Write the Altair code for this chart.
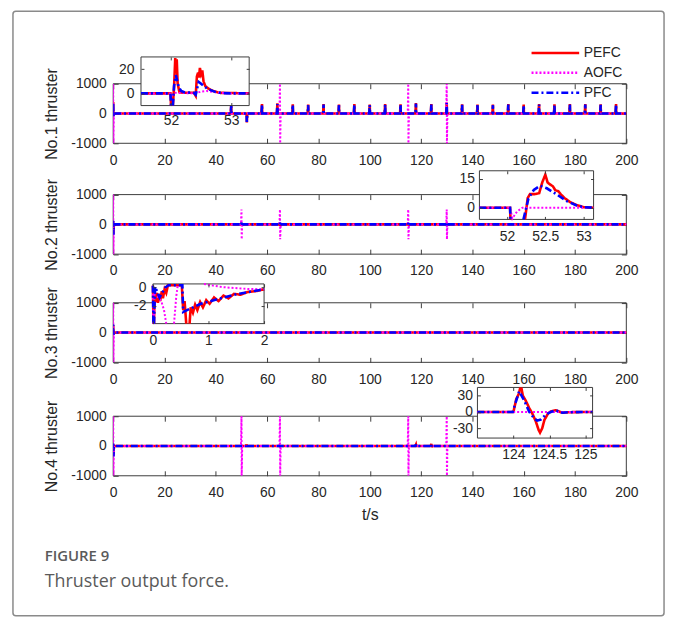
import altair as alt
import pandas as pd

# ---------------- layout constants ----------------
W = 517                      # plot width of every panel
PH = 60                      # plot height of every panel
TOPS = [0, 111.7, 220.7, 335]  # panel tops inside the single view
HT = TOPS[-1] + PH           # height of the whole view
FONT = "Liberation Sans"
TXT = "#262626"
AX = "#3c3c3c"

METHODS = ["PEFC", "AOFC", "PFC"]
COLORS = ["#ff0000", "#ff00ff", "#0000ff"]
DASHES = [[1, 0], [2, 2], [7, 3, 2, 3]]
WIDTHS = {"PEFC": 2.6, "AOFC": 2.0, "PFC": 2.6}

X_TICKS = [0, 20, 40, 60, 80, 100, 120, 140, 160, 180, 200]
Y_TICKS = [-1000, 0, 1000]
Y_TITLES = ["No.1 thruster", "No.2 thruster", "No.3 thruster", "No.4 thruster"]
X_TITLE = "t/s"
CAPTION = ["FIGURE 9", "Thruster output force."]

# ---------------- main panels: spikes (time, upper, lower) ----------------
P1_PFC_T = [0, 46, 52, 58, 64, 70, 76, 82, 88, 94, 100, 106, 112, 118, 124, 130, 136, 142, 148, 154, 160, 166, 172, 178, 184, 190, 196]
P1_PFC_HI = [370, 250, 0, 300, 320, 290, 280, 300, 280, 300, 280, 300, 290, 330, 300, 350, 290, 280, 280, 300, 280, 300, 290, 300, 300, 290, 300]
P1_PFC_LO = [-90, 0, -280, 0, 0, 0, 0, 0, 0, 0, 0, 0, 0, 0, 0, 0, 0, 0, 0, 0, 0, 0, 0, 0, 0, 0, 0]
P1_PEFC_T = P1_PFC_T
P1_PEFC_HI = [390, 270, 0, 320, 340, 310, 300, 320, 300, 320, 300, 320, 310, 350, 320, 370, 310, 300, 300, 320, 300, 320, 310, 320, 320, 310, 320]
P1_PEFC_LO = [-80, 0, -300, 0, 0, 0, 0, 0, 0, 0, 0, 0, 0, 0, 0, 0, 0, 0, 0, 0, 0, 0, 0, 0, 0, 0, 0]
P1_AOFC_T = [0, 65, 115, 130]
P1_AOFC_HI = [1000, 1000, 1000, 1000]
P1_AOFC_LO = [-1000, -1000, -1000, -1000]

P2_PFC_T = [0, 50, 65, 115, 130]
P2_PFC_HI = [120, 60, 60, 50, 60]
P2_PFC_LO = [-350, -60, -60, -50, -60]
P2_PEFC_T = [0, 50, 65, 115, 130]
P2_PEFC_HI = [100, 50, 50, 40, 50]
P2_PEFC_LO = [-300, -50, -50, -40, -50]
P2_AOFC_T = [0, 50, 65, 115, 130]
P2_AOFC_HI = [1000, 500, 500, 500, 500]
P2_AOFC_LO = [-1000, -500, -500, -500, -500]

P3_PFC_T = [0]
P3_PFC_HI = [270]
P3_PFC_LO = [-70]
P3_PEFC_T = [0]
P3_PEFC_HI = [250]
P3_PEFC_LO = [-60]
P3_AOFC_T = [0]
P3_AOFC_HI = [1000]
P3_AOFC_LO = [-1000]

P4_PFC_T = [0, 52, 118, 124]
P4_PFC_HI = [80, 60, 50, 60]
P4_PFC_LO = [-350, 0, 0, -30]
P4_PEFC_T = [0, 52, 118, 124]
P4_PEFC_HI = [70, 50, 40, 70]
P4_PEFC_LO = [-320, 0, 0, -40]
P4_AOFC_T = [0, 50, 65, 115, 130]
P4_AOFC_HI = [1000, 1000, 1000, 1000, 1000]
P4_AOFC_LO = [-1000, -1000, -1000, -1000, -1000]

# ---------------- insets (None = curve leaves the box) ----------------
I1_PFC_T = [51.5, 51.99, 52.0, None, 52.03, 52.05, 52.08, 52.1, 52.13, 52.17, 52.22, 52.3, 52.38, 52.41, 52.43, 52.46, 52.5, 52.55, 52.6, 52.67, 52.75, 52.85, 53.0, 53.3]
I1_PFC_V = [0, 0, -10, None, -10, 6, 15, 11, 5, 2, 1, 0.8, 0.5, -1, 3, 9.5, 8, 6, 4, 2.5, 1, 0.3, 0, 0]
I1_PEFC_T = [51.5, 51.99, 52.0, None, 52.03, 52.05, 52.07, 52.085, 52.095, 52.11, 52.14, 52.2, 52.38, 52.41, 52.43, 52.45, 52.465, 52.48, 52.5, 52.52, 52.54, 52.57, 52.62, 52.7, 52.8, 53.3]
I1_PEFC_V = [0, 0, -10, None, -10, 5, 29, 18, 28, 8, 1, 0.5, 0.5, -2, 14, 17, 13, 21, 16, 19, 10, 6, 4, 2, 0.5, 0]
I1_AOFC_T = [51.5, 52.0, 52.02, 52.06, 52.4, 52.5, 52.6, 52.7, 52.8, 53.0, 53.3]
I1_AOFC_V = [0, 0, -1.5, 0.5, 0, 1.5, 2, 1.2, 0.5, 0, 0]

I2_PFC_T = [51.64, 52.04, 52.045, None, 52.215, 52.28, 52.35, 52.43, 52.52, 52.65, 52.78, 52.91, 53.0, 53.13]
I2_PFC_V = [0, 0, -6, None, -6, 4.8, 9.2, 11.3, 10, 6.8, 3.4, 1.2, 0.3, 0]
I2_PEFC_T = [51.64, 52.04, 52.045, None, 52.235, 52.27, 52.3, 52.36, 52.42, 52.46, 52.5, 52.53, 52.56, 52.6, 52.63, 52.67, 52.7, 52.75, 52.82, 52.9, 53.0, 53.13]
I2_PEFC_V = [0, 0, -6, None, -6, 5, 7, 7, 7.5, 13, 17, 13, 12, 11, 9, 8.5, 7, 5, 3, 1.5, 0.3, 0]
I2_AOFC_T = [51.64, 52.04, 52.07, 52.13, 52.2, 53.13]
I2_AOFC_V = [0, 0, -5.5, -2, 0, 0]

I3_PFC_T = [0.0, 0.01, None, 0.02, 0.04, 0.12, 0.22, 0.28, 0.53, 0.545, 0.86, 1.16, 1.46, 1.76, 2.0]
I3_PFC_V = [0.2, -4, None, -4, 0.1, -1.1, 0.0, 0.25, 0.25, -2.7, -1.8, -1.3, -0.8, -0.45, -0.2]
I3_PEFC_T = [0.0, 0.01, None, 0.02, 0.03, 0.05, 0.07, 0.09, 0.11, 0.13, 0.16, 0.18, 0.21, 0.24, 0.27, 0.52, 0.545, 0.57, 0.6, None, 0.66, 0.68, 0.72, 0.76, 0.8, 0.85, 0.9, 0.96, 1.02, 1.1, 1.18, 1.27, 1.36, 1.46, 1.58, 1.7, 1.85, 2.0]
I3_PEFC_V = [0.2, -4, None, -4, -0.5, -1.6, -0.6, -1.7, -0.7, -1.5, -0.4, -1.2, -0.2, -0.6, 0.25, 0.25, -2.5, -1.5, -4, None, -4, -2.2, -2.8, -1.9, -2.5, -1.6, -2.2, -1.4, -1.8, -1.1, -1.5, -0.9, -1.2, -0.7, -0.8, -0.5, -0.4, -0.2]
I3_AOFC_T = [0.0, 0.005, None, 0.015, 0.03, 0.08, 0.15, 0.2, 0.24, None, 0.38, 0.42, 0.45, None, 0.92, 1.0, 1.1, 1.25, 1.45, 1.7, 2.0]
I3_AOFC_V = [0.2, -4, None, -4, -0.8, -1.0, -1.5, -2.5, -4, None, -4, -1, 0.4, None, 0.4, 0.3, 0.2, 0.05, -0.05, -0.15, -0.2]

I4_PFC_T = [123.5, 123.99, 124.08, 124.15, 124.22, 124.29, 124.33, 124.38, 124.45, 124.52, 124.59, 124.68, 124.77, 125.1]
I4_PFC_V = [0, 0, 38, 21, 0, -12, -16, -14, -5, 0, 3, -1.5, -0.5, 0]
I4_PEFC_T = [123.5, 124.0, 124.04, 124.06, 124.08, 124.095, None, 124.11, 124.13, 124.17, 124.22, 124.27, 124.31, 124.35, 124.37, 124.4, 124.43, 124.48, 124.52, 124.59, 124.68, 124.77, 125.1]
I4_PEFC_V = [0, 0, 24, 29, 35, 45, None, 45, 30, 21, 7, -5, -17, -33, -38, -30, -15, -3, 1, 3, -1.5, -0.5, 0]
I4_AOFC_T = [123.5, 125.1]
I4_AOFC_V = [0, 0]

COLOR_SCALE = alt.Scale(domain=METHODS, range=COLORS)
DASH_SCALE = alt.Scale(domain=METHODS, range=DASHES)
LABEL_EXPR = "'' + datum.value"


def spike_df(ts, his, los, method):
    pts = [(-1.0, 0.0), (201.0, 0.0)]
    for t, hi, lo in zip(ts, his, los):
        pts += [(t - 0.2, 0.0), (t, hi), (t + 0.08, lo), (t + 0.28, 0.0)]
    pts.sort()
    df = pd.DataFrame(pts, columns=["t", "v"])
    df["seg"] = 0
    df["method"] = method
    return df


def inset_df(ts, vs, method):
    rows, seg = [], 0
    for t, v in zip(ts, vs):
        if v is None:
            seg += 1
            continue
        rows.append((t, v, seg))
    df = pd.DataFrame(rows, columns=["t", "v", "seg"])
    df["method"] = method
    return df


def scales(xd, yd, box):
    x0, x1, ytop, ybot = box
    xs = alt.Scale(domain=xd, range=[x0, x1], nice=False, zero=False)
    ys = alt.Scale(domain=yd, range=[ybot, ytop], nice=False, zero=False)
    return xs, ys


def tick_layers(xd, yd, box, xt, yt, size, z):
    """Inward-pointing ticks on the four sides of a box."""
    x0, x1, ytop, ybot = box
    xs, ys = scales(xd, yd, box)
    base = alt.Chart(pd.DataFrame({"x": xd, "y": yd})).mark_point(opacity=0)
    common = dict(labels=False, domain=False, grid=False, ticks=True, tickSize=size,
                  tickColor=AX, tickWidth=1, title=None, zindex=z)
    t1 = base.encode(
        x=alt.X("x:Q", scale=xs, axis=alt.Axis(orient="top", offset=-ybot, values=xt, **common)),
        y=alt.Y("y:Q", scale=ys, axis=alt.Axis(orient="right", offset=-(W - x0), values=yt, **common)),
    )
    t2 = base.encode(
        x=alt.X("x:Q", scale=xs, axis=alt.Axis(orient="bottom", offset=ytop - HT, values=xt, **common)),
        y=alt.Y("y:Q", scale=ys, axis=alt.Axis(orient="left", offset=-x1, values=yt, **common)),
    )
    return [t1, t2]


def method_layers(dfs, xs, ys, clip, legend):
    out = []
    for m in METHODS:
        out.append(
            alt.Chart(dfs[m]).mark_line(strokeWidth=WIDTHS[m], clip=clip).encode(
                x=alt.X("t:Q", scale=xs, axis=None),
                y=alt.Y("v:Q", scale=ys, axis=None),
                color=alt.Color("method:N", scale=COLOR_SCALE, legend=legend),
                strokeDash=alt.StrokeDash("method:N", scale=DASH_SCALE, legend=legend),
                detail="seg:N",
            )
        )
    return out


def main_layers(top, dfs, ytitle, xtitle, legend):
    box = (0, W, top, top + PH)
    xd, yd = [0, 200], [-1000, 1000]
    xs, ys = scales(xd, yd, box)
    frame = pd.DataFrame({"x0": [xd[0]], "x1": [xd[1]], "y0": [yd[0]], "y1": [yd[1]]})
    xax = dict(orient="bottom", offset=top + PH - HT, values=X_TICKS, ticks=False, tickSize=0,
               domain=False, grid=False, labelPadding=10, labelFlush=False, labelOverlap=False,
               labelExpr=LABEL_EXPR, titlePadding=7, title=xtitle if xtitle else None)
    box_chart = alt.Chart(frame).mark_rect(filled=False, stroke=AX, strokeWidth=1).encode(
        x=alt.X("x0:Q", scale=xs, axis=alt.Axis(**xax)),
        x2="x1:Q",
        y=alt.Y("y0:Q", scale=ys, axis=alt.Axis(
            orient="left", values=Y_TICKS, ticks=False, tickSize=0, domain=False, grid=False,
            labelPadding=7, labelFlush=False, labelOverlap=False, labelExpr=LABEL_EXPR,
            title=ytitle, titlePadding=11)),
        y2="y1:Q",
    )
    layers = tick_layers(xd, yd, box, X_TICKS, Y_TICKS, 5, 0)
    layers += [box_chart] + method_layers(dfs, xs, ys, True, legend)
    return layers


def inset_layers(top, xd, yd, rbox, xt, yt, xpad, ypad, dfs):
    x0, x1, yt0, yb0 = rbox
    box = (x0, x1, top + yt0, top + yb0)
    ybot = top + yb0
    xs, ys = scales(xd, yd, box)
    frame = pd.DataFrame({"x0": [xd[0]], "x1": [xd[1]], "y0": [yd[0]], "y1": [yd[1]]})
    rect = alt.Chart(frame).mark_rect(fill="white", stroke=AX, strokeWidth=1).encode(
        x=alt.X("x0:Q", scale=xs, axis=alt.Axis(
            orient="bottom", offset=ybot - HT, values=xt, ticks=False, tickSize=0, domain=False,
            grid=False, labelPadding=xpad, labelFlush=False, labelOverlap=False,
            labelExpr=LABEL_EXPR, title=None, zindex=1)),
        x2="x1:Q",
        y=alt.Y("y0:Q", scale=ys, axis=alt.Axis(
            orient="left", offset=-x0, values=yt, ticks=False, tickSize=0, domain=False,
            grid=False, labelPadding=ypad, labelFlush=False, labelOverlap=False,
            labelExpr=LABEL_EXPR, title=None, zindex=1)),
        y2="y1:Q",
    )
    layers = [rect] + method_layers(dfs, xs, ys, False, None)
    layers += tick_layers(xd, yd, box, xt, yt, 3, 1)
    return layers


def dfs_of(pe, ao, pf, builder):
    return {"PEFC": builder(*pe, "PEFC"), "AOFC": builder(*ao, "AOFC"), "PFC": builder(*pf, "PFC")}


LEGEND = alt.Legend(
    orient="none", legendX=420, legendY=-38, title=None, direction="vertical",
    symbolType="stroke", symbolSize=2304, symbolStrokeWidth=2.5, clipHeight=14,
    rowPadding=6, padding=0, labelOffset=3, labelFont=FONT, labelFontSize=14, labelColor=TXT,
)

layers = []
# ---- panel 1 ----
layers += main_layers(TOPS[0], dfs_of((P1_PEFC_T, P1_PEFC_HI, P1_PEFC_LO), (P1_AOFC_T, P1_AOFC_HI, P1_AOFC_LO),
                                      (P1_PFC_T, P1_PFC_HI, P1_PFC_LO), spike_df), Y_TITLES[0], None, LEGEND)
layers += inset_layers(TOPS[0], [51.5, 53.3], [-10, 30], (28, 137, -27, 22), [52, 53], [0, 20], 8, 7,
                       dfs_of((I1_PEFC_T, I1_PEFC_V), (I1_AOFC_T, I1_AOFC_V), (I1_PFC_T, I1_PFC_V), inset_df))
# ---- panel 2 ----
layers += main_layers(TOPS[1], dfs_of((P2_PEFC_T, P2_PEFC_HI, P2_PEFC_LO), (P2_AOFC_T, P2_AOFC_HI, P2_AOFC_LO),
                                      (P2_PFC_T, P2_PFC_HI, P2_PFC_LO), spike_df), Y_TITLES[1], None, None)
layers += inset_layers(TOPS[1], [51.64, 53.13], [-6, 19], (369, 484, -24, 25), [52, 52.5, 53], [0, 15], 10, 5,
                       dfs_of((I2_PEFC_T, I2_PEFC_V), (I2_AOFC_T, I2_AOFC_V), (I2_PFC_T, I2_PFC_V), inset_df))
# ---- panel 3 ----
layers += main_layers(TOPS[2], dfs_of((P3_PEFC_T, P3_PEFC_HI, P3_PEFC_LO), (P3_AOFC_T, P3_AOFC_HI, P3_AOFC_LO),
                                      (P3_PFC_T, P3_PFC_HI, P3_PFC_LO), spike_df), Y_TITLES[2], None, None)
layers += inset_layers(TOPS[2], [0, 2], [-4, 0.4], (40, 152, -19, 21), [0, 1, 2], [-2, 0], 10, 7,
                       dfs_of((I3_PEFC_T, I3_PEFC_V), (I3_AOFC_T, I3_AOFC_V), (I3_PFC_T, I3_PFC_V), inset_df))
# ---- panel 4 ----
layers += main_layers(TOPS[3], dfs_of((P4_PEFC_T, P4_PEFC_HI, P4_PEFC_LO), (P4_AOFC_T, P4_AOFC_HI, P4_AOFC_LO),
                                      (P4_PFC_T, P4_PFC_HI, P4_PFC_LO), spike_df), Y_TITLES[3], X_TITLE, None)
layers += inset_layers(TOPS[3], [123.5, 125.1], [-48, 45], (367, 483, -29, 22), [124, 124.5, 125], [-30, 0, 30], 10, 5,
                       dfs_of((I4_PEFC_T, I4_PEFC_V), (I4_AOFC_T, I4_AOFC_V), (I4_PFC_T, I4_PFC_V), inset_df))

# ---- figure frame and caption ----
one = pd.DataFrame({"k": [0]})
border = alt.Chart(one).mark_rect(filled=False, stroke="#8a8a8a", strokeWidth=1.5, cornerRadius=3).encode(
    x=alt.value(-101), x2=alt.value(555), y=alt.value(-73), y2=alt.value(536)
)
cap1 = alt.Chart(pd.DataFrame({"txt": [CAPTION[0]]})).mark_text(
    align="left", baseline="middle", font="Open Sans", fontSize=15, fontWeight=600, color="#5a5a5a"
).encode(x=alt.value(-69), y=alt.value(476), text="txt:N")
cap2 = alt.Chart(pd.DataFrame({"txt": [CAPTION[1]]})).mark_text(
    align="left", baseline="middle", font="Open Sans", fontSize=18, color="#5a5a5a"
).encode(x=alt.value(-69), y=alt.value(502), text="txt:N")
layers += [border, cap1, cap2]

chart = alt.layer(*layers).resolve_scale(
    x="independent", y="independent"
).properties(
    width=W, height=HT,
    padding={"left": 4, "top": 0, "right": 4, "bottom": 0},
).configure_view(
    stroke=None
).configure_axis(
    labelFont=FONT, labelFontSize=14, labelColor=TXT,
    titleFont=FONT, titleFontSize=16, titleFontWeight="normal", titleColor=TXT,
)

chart.save("out.html", embed_options={"renderer": "svg", "actions": False})
